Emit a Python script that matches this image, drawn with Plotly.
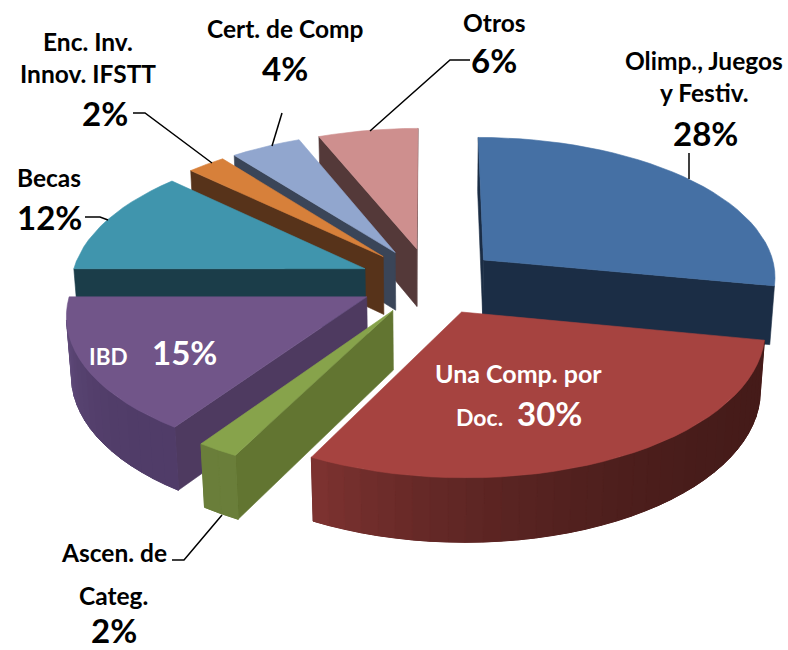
import math
import plotly.graph_objects as go

categories = ["Olimp., Juegos y Festiv.", "Una Comp. por Doc.", "Ascen. de Categ.", "IBD",
              "Becas", "Enc. Inv. Innov. IFSTT", "Cert. de Comp", "Otros"]
values = [28.0, 29.6, 2.0, 15.4, 12.0, 2.4, 4.4, 6.2]
top_colors = ["#4570A4", "#A64340", "#87A34B", "#715589", "#4095AD", "#D7803A", "#91A6CE", "#CE8F8E"]
radial_colors = ["#1B2D45", "#4A1C1A", "#627531", "#4E3A60", "#1B3D49", "#57331A", "#3A4558", "#543939"]
rim_start_colors = ["#1B2D45", "#451B19", "#6A7E3A", "#503C68", "#1B3D49", "#57331A", "#3A4558", "#543939"]
rim_end_colors = ["#1B2D45", "#7E3331", "#6A7E3A", "#6A5486", "#1B3D49", "#57331A", "#3A4558", "#543939"]

# projection of the tilted pie
CX, CY = 430.0, 281.0
FOCAL = 294.0
ELEV = math.radians(28.5)
DIST = 8.0
THICK = 0.23
PULL = 0.24
BLACK = "#000000"


def hex_rgb(c):
    return tuple(int(c[i:i + 2], 16) for i in (1, 3, 5))


def mix(a, b, t):
    ra, rb = hex_rgb(a), hex_rgb(b)
    return "rgb(%d,%d,%d)" % tuple(round(p + (q - p) * t) for p, q in zip(ra, rb))


def project(theta, r, z, ox, oy):
    wx = ox + r * math.sin(theta)
    wy = oy - r * math.cos(theta)  # +y toward viewer
    depth = wy * math.cos(ELEV) + z * math.sin(ELEV)
    up = -wy * math.sin(ELEV) + z * math.cos(ELEV)
    s = DIST / (DIST - depth)
    return CX + FOCAL * wx * s, CY - FOCAL * up * s


def area(pts):
    return sum(pts[i][0] * pts[(i + 1) % len(pts)][1] - pts[(i + 1) % len(pts)][0] * pts[i][1]
               for i in range(len(pts)))


def poly(fig, pts, color, width=0.6):
    xs = [p[0] for p in pts] + [pts[0][0]]
    ys = [p[1] for p in pts] + [pts[0][1]]
    fig.add_trace(go.Scatter(x=xs, y=ys, mode="lines", fill="toself", fillcolor=color,
                             line=dict(color=color, width=width), hoverinfo="skip", showlegend=False))


fig = go.Figure()
total = sum(values)
spans = []
acc = 0.0
for v in values:
    spans.append((acc / total * 2 * math.pi, (acc + v) / total * 2 * math.pi))
    acc += v

order = sorted(range(len(values)), key=lambda i: -math.cos((spans[i][0] + spans[i][1]) / 2))
for i in order:
    a0, a1 = spans[i]
    mid = (a0 + a1) / 2
    ox, oy = PULL * math.sin(mid), -PULL * math.cos(mid)
    steps = max(2, int((a1 - a0) / math.radians(3)))
    angles = [a0 + (a1 - a0) * k / steps for k in range(steps + 1)]
    top = [project(t, 1, 0, ox, oy) for t in angles]
    bot = [project(t, 1, -THICK, ox, oy) for t in angles]
    at, ab = project(0, 0, 0, ox, oy), project(0, 0, -THICK, ox, oy)
    # radial walls
    for q in ([at, top[0], bot[0], ab], [top[-1], at, ab, bot[-1]]):
        if area(q) < 0:
            poly(fig, q, radial_colors[i])
    # outer wall: visible strips only, over a solid base so no seams show
    vis = [k for k in range(steps) if area([top[k], top[k + 1], bot[k + 1], bot[k]]) < 0]
    if vis:
        base = [top[k] for k in range(vis[0], vis[-1] + 2)] + [bot[k] for k in range(vis[-1] + 1, vis[0] - 1, -1)]
        poly(fig, base, mix(rim_start_colors[i], rim_end_colors[i], 0.5))
    for k in vis:
        q = [top[k], top[k + 1], bot[k + 1], bot[k]]
        poly(fig, q, mix(rim_start_colors[i], rim_end_colors[i], ((k + 0.5) / steps) ** 2.6), width=1)
    poly(fig, [at] + top, top_colors[i])

# leader lines
leaders = [
    ([689, 689], [153, 179]),
    ([470, 450, 370], [60, 60, 131]),
    ([282, 272], [113, 146]),
    ([133, 145, 212], [113, 113, 163]),
    ([85, 100, 108], [217, 217, 220]),
    ([172, 184, 222], [560, 560, 515]),
]
for lx, ly in leaders:
    fig.add_trace(go.Scatter(x=lx, y=ly, mode="lines", line=dict(color=BLACK, width=1.5),
                             hoverinfo="skip", showlegend=False))

pct = [f"{round(v)}%" for v in values]
NAME, PCT = 24.5, 33
texts = [
    ("Olimp., Juegos", 704, 60, NAME, BLACK), ("y Festiv.", 704, 92, NAME, BLACK), (pct[0], 705, 133, PCT, BLACK),
    ("Una Comp. por", 518, 373, 25, "white"), ("Doc.", 479, 417, 23, "white"), (pct[1], 549, 413, PCT, "white"),
    ("Ascen. de", 114, 552, NAME, BLACK), ("Categ.", 113, 595, NAME, BLACK),
    (pct[2], 114, 630, PCT, BLACK),
    ("IBD", 108, 356, 22.5, "white"), (pct[3], 184, 352, PCT, "white"),
    ("Becas", 49, 177, NAME, BLACK), (pct[4], 49, 217, PCT, BLACK),
    ("Enc. Inv.", 88, 41, NAME, BLACK), ("Innov. IFSTT", 88, 73, NAME, BLACK), (pct[5], 105, 113, PCT, BLACK),
    ("Cert. de Comp", 285, 28, NAME, BLACK), (pct[6], 285, 68, PCT, BLACK),
    ("Otros", 494, 22, NAME, BLACK), (pct[7], 494, 60, PCT, BLACK),
]
for t, x, y, size, color in texts:
    fig.add_annotation(x=x, y=y, xref="x", yref="y", text=f"<b>{t}</b>", showarrow=False,
                       xanchor="center", yanchor="middle",
                       font=dict(family="Lato", size=size, color=color))

fig.update_layout(
    width=788, height=650, margin=dict(l=0, r=0, t=0, b=0),
    paper_bgcolor="white", plot_bgcolor="white", showlegend=False,
    xaxis=dict(range=[0, 788], visible=False, fixedrange=True),
    yaxis=dict(range=[650, 0], visible=False, fixedrange=True),
)
fig.write_html("out.html", config={"displayModeBar": False},
               post_script="document.body.style.margin='0';document.body.style.overflow='hidden';")
